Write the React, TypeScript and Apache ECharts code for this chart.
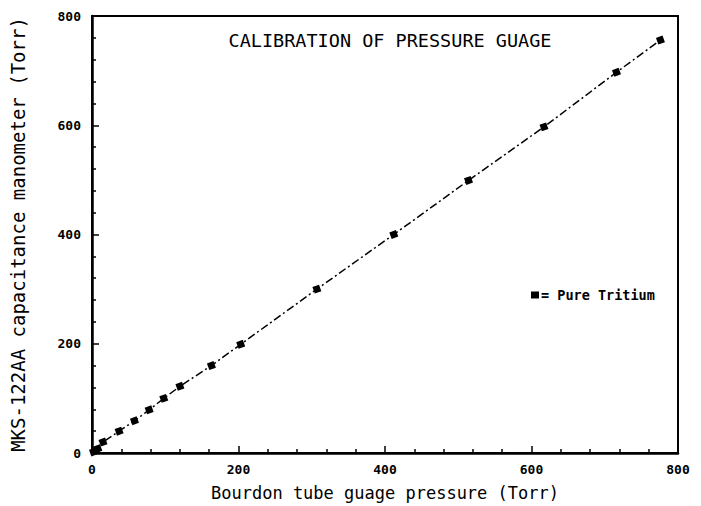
import React, { useEffect, useRef } from "react";
import * as echarts from "echarts";

const bourdonPressure = [2, 5, 8, 15, 37, 58, 78, 98, 120, 163, 203, 307, 412, 514, 617, 716, 776];
const mksReading = [2, 5, 8, 20, 40, 59, 79, 100, 122, 160, 199, 300, 400, 499, 597, 697, 756];
const xTicks = [0, 200, 400, 600, 800];
const yTicks = [0, 200, 400, 600, 800];

const titleText = "CALIBRATION OF PRESSURE GUAGE";
const xName = "Bourdon tube guage pressure (Torr)";
const yName = "MKS-122AA capacitance manometer (Torr)";
const seriesName = "Pure Tritium";

const FONT = "DejaVu Sans Mono";

export default function App() {
  const ref = useRef<HTMLDivElement>(null);
  useEffect(() => {
    if (!ref.current) return;
    const chart = echarts.init(ref.current, null, { renderer: "svg" });
    const data = bourdonPressure.map((x, i) => [x, mksReading[i]]);
    chart.setOption({
      animation: false,
      backgroundColor: "#ffffff",
      title: {
        text: titleText,
        left: 385,
        textAlign: "center",
        top: 26,
        textStyle: { fontFamily: FONT, fontSize: 18.5, fontWeight: "normal", color: "#000" },
      },
      legend: {
        left: 526,
        top: 283,
        icon: "rect",
        itemWidth: 8,
        itemHeight: 7,
        itemGap: 2,
        formatter: "= Pure Tritium",
        textStyle: { fontFamily: FONT, fontSize: 13.5, fontWeight: "bold", color: "#000", padding: [0, 0, 0, -3] },
        data: [seriesName],
      },
      grid: {
        left: 91,
        right: 23,
        top: 16,
        bottom: 52,
        show: true,
        borderColor: "#000",
        borderWidth: 2,
        backgroundColor: "transparent",
      },
      xAxis: {
        type: "value",
        min: 0,
        max: 800,
        interval: 200,
        name: xName,
        nameLocation: "middle",
        nameGap: 31,
        nameTextStyle: { fontFamily: FONT, fontSize: 17, color: "#000" },
        axisLine: { show: true, lineStyle: { color: "#000", width: 2.5 } },
        axisTick: { show: true, inside: true, length: 7, lineStyle: { color: "#000", width: 1.5 } },
        minorTick: { show: true, splitNumber: 5, length: 4, lineStyle: { color: "#000", width: 1.5 } },
        splitLine: { show: false },
        axisLabel: {
          margin: 10,
          fontFamily: FONT,
          fontSize: 13,
          fontWeight: "bold",
          color: "#000",
          formatter: (v: number) => (xTicks.includes(v) ? String(v) : ""),
        },
      },
      yAxis: {
        type: "value",
        min: 0,
        max: 800,
        interval: 200,
        name: yName,
        nameLocation: "middle",
        nameGap: 65,
        nameTextStyle: { fontFamily: FONT, fontSize: 19, color: "#000" },
        axisLine: { show: true, lineStyle: { color: "#000", width: 2.5 } },
        axisTick: { show: true, inside: true, length: 7, lineStyle: { color: "#000", width: 1.5 } },
        minorTick: { show: true, splitNumber: 5, length: 4, lineStyle: { color: "#000", width: 1.5 } },
        splitLine: { show: false },
        axisLabel: {
          margin: 11,
          fontFamily: FONT,
          fontSize: 13,
          fontWeight: "bold",
          color: "#000",
          formatter: (v: number) => (yTicks.includes(v) ? String(v) : ""),
        },
      },
      series: [
        {
          name: seriesName,
          type: "line",
          data,
          symbol: "rect",
          symbolSize: 7,
          symbolRotate: 20,
          itemStyle: { color: "#000" },
          lineStyle: { color: "#000", width: 1.5, type: [8, 3, 2, 3] },
        },
      ],
    });
    return () => chart.dispose();
  }, []);
  return <div ref={ref} style={{ width: 701, height: 506, position: "absolute", left: 0, top: 0 }} />;
}
